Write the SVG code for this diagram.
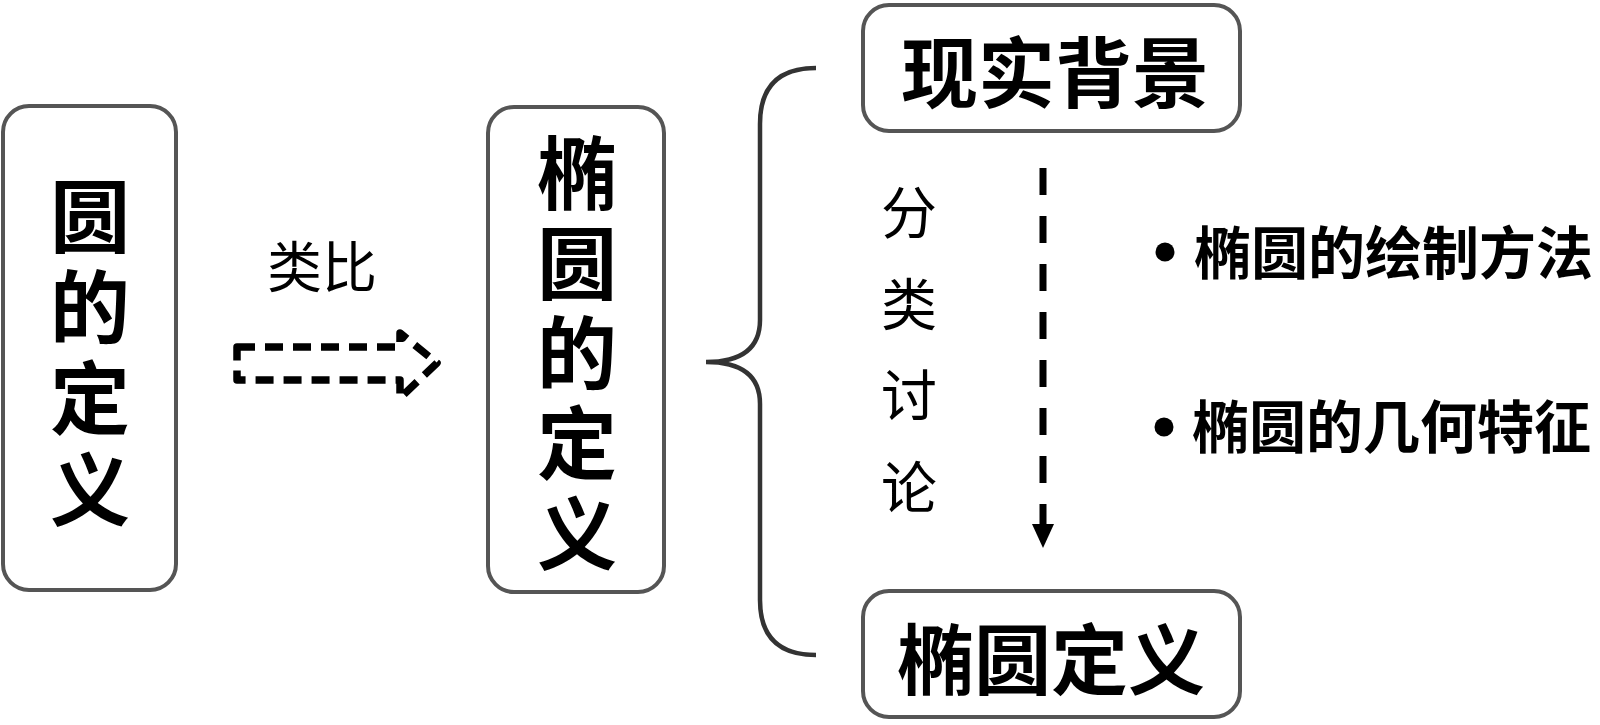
<svg xmlns="http://www.w3.org/2000/svg" width="1600" height="725" viewBox="0 0 1600 725">
<style>
.box{fill:#fff;stroke:#555;stroke-width:4}
.bold{font-family:"Noto Sans CJK SC","Noto Sans CJK JP",sans-serif;font-weight:700;fill:#000}
.thin{font-family:"Noto Sans CJK SC","Noto Sans CJK JP",sans-serif;font-weight:400;fill:#000}
.vert{writing-mode:vertical-rl;text-orientation:upright}
</style>
<rect width="1600" height="725" fill="#fff"/>
<g id="node-circle-def">
<rect class="box" x="3" y="106" width="173" height="484" rx="26"/>
<text class="bold vert" font-size="80" letter-spacing="11" x="90" y="176">圆的定义</text>
</g>
<g id="node-ellipse-def">
<rect class="box" x="488" y="107" width="176" height="485" rx="26"/>
<text class="bold vert" font-size="80" letter-spacing="10" x="577" y="133">椭圆的定义</text>
</g>
<g id="node-background">
<rect class="box" x="863" y="5" width="377" height="126" rx="26"/>
<text class="bold" font-size="77" text-anchor="middle" x="1055" y="102">现实背景</text>
</g>
<g id="node-ellipse">
<rect class="box" x="863" y="591" width="377" height="126" rx="26"/>
<text class="bold" font-size="77" text-anchor="middle" x="1051" y="689">椭圆定义</text>
</g>
<g id="node-bullets">
<circle cx="1165" cy="252" r="9.5" fill="#000"/>
<text class="bold" font-size="57" x="1194" y="274">椭圆的绘制方法</text>
<circle cx="1164" cy="427" r="9.5" fill="#000"/>
<text class="bold" font-size="57" x="1192" y="448">椭圆的几何特征</text>
</g>
<g id="connectors">
<text class="thin" font-size="55" text-anchor="middle" x="322" y="287">类比</text>
<path d="M237,347 L400,347 L400,333 L437,363 L400,398 L400,380 L237,380 Z" fill="none" stroke="#000" stroke-width="7.5" stroke-dasharray="18 10" stroke-linejoin="round"/>
<path d="M816,68 Q760,68 760,124 L760,320 Q760,362 706,362 Q760,362 760,404 L760,600 Q760,655 816,655" fill="none" stroke="#333" stroke-width="4.5"/>
<text class="thin vert" font-size="56" letter-spacing="35.5" x="909" y="184">分类讨论</text>
<line x1="1043" y1="168" x2="1043" y2="528" stroke="#000" stroke-width="7" stroke-dasharray="27 21"/>
<polygon points="1032,524 1054,524 1043,548" fill="#000"/>
</g>
</svg>
